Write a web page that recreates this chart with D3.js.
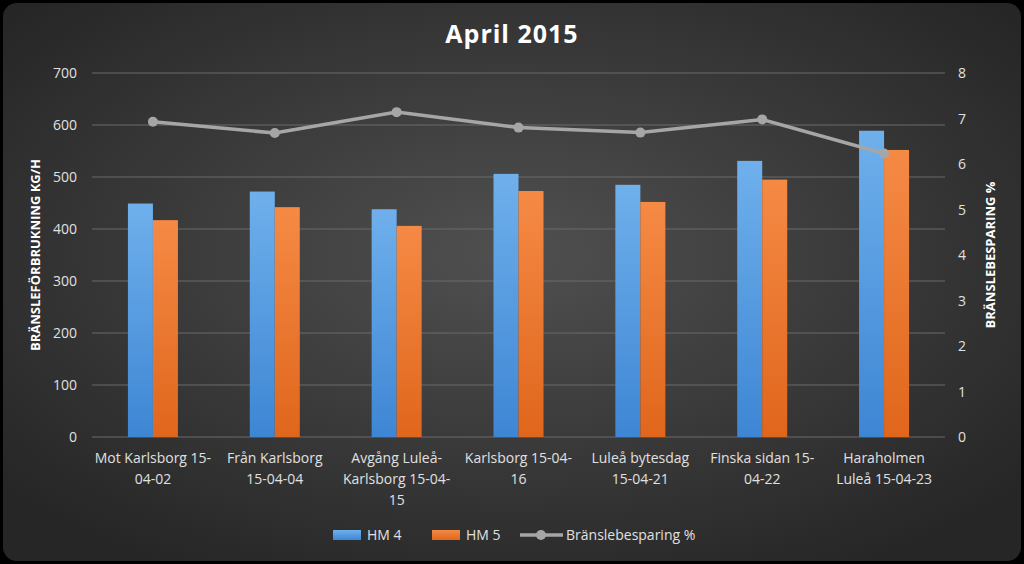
<!DOCTYPE html>
<html><head><meta charset="utf-8">
<script src="https://cdn.jsdelivr.net/npm/d3@7"></script>
<style>body{margin:0;background:#fff}svg{display:block;font-family:"Open Sans","Liberation Sans",Arial,sans-serif}</style>
</head><body><svg id="c" width="1024" height="564"></svg>
<script>
// category labels, split into lines as in the reference
const categories = [
  ["Mot Karlsborg 15-", "04-02"],
  ["Från Karlsborg", "15-04-04"],
  ["Avgång Luleå-", "Karlsborg 15-04-", "15"],
  ["Karlsborg 15-04-", "16"],
  ["Luleå bytesdag", "15-04-21"],
  ["Finska sidan 15-", "04-22"],
  ["Haraholmen", "Luleå 15-04-23"]
];
const hm4 = [449, 472, 438, 506, 485, 531, 589];
const hm5 = [417, 442, 406, 473, 452, 495, 552];
const savings = [6.93, 6.68, 7.14, 6.80, 6.69, 6.98, 6.23];
const leftTicks = [0, 100, 200, 300, 400, 500, 600, 700];
const rightTicks = [0, 1, 2, 3, 4, 5, 6, 7, 8];

const svg = d3.select('#c');
const defs = svg.append('defs');
const bg = defs.append('radialGradient').attr('id', 'bg').attr('cx', '50%').attr('cy', '45%').attr('r', '65%');
bg.append('stop').attr('offset', '0%').attr('stop-color', '#505050');
bg.append('stop').attr('offset', '100%').attr('stop-color', '#262626');
const g4 = defs.append('linearGradient').attr('id', 'g4').attr('x1', 0).attr('x2', 0).attr('y1', 0).attr('y2', 1);
g4.append('stop').attr('offset', '0%').attr('stop-color', '#6fb0ec');
g4.append('stop').attr('offset', '100%').attr('stop-color', '#3e86d4');
const g5 = defs.append('linearGradient').attr('id', 'g5').attr('x1', 0).attr('x2', 0).attr('y1', 0).attr('y2', 1);
g5.append('stop').attr('offset', '0%').attr('stop-color', '#f58a45');
g5.append('stop').attr('offset', '100%').attr('stop-color', '#e0661c');

svg.append('rect').attr('width', 1024).attr('height', 564).attr('fill', '#000');
svg.append('rect').attr('x', 3).attr('y', 3).attr('width', 1018).attr('height', 558).attr('rx', 14)
  .attr('fill', 'url(#bg)');

const x0 = 92, x1 = 945, yTop = 73, yBot = 437;
const x = d3.scaleBand().domain(d3.range(categories.length)).range([x0, x1]);
const yL = d3.scaleLinear().domain([0, 700]).range([yBot, yTop]);
const yR = d3.scaleLinear().domain([0, 8]).range([yBot, yTop]);
const bw = 25;

svg.append('text').attr('x', 512).attr('y', 43).attr('text-anchor', 'middle')
  .attr('fill', '#fff').attr('font-size', 25).attr('font-weight', 'bold').attr('letter-spacing', 1).text('April 2015');

// gridlines + left ticks
leftTicks.forEach(t => {
  svg.append('line').attr('x1', x0).attr('x2', x1).attr('y1', yL(t)).attr('y2', yL(t))
    .attr('stroke', '#6a6a6a').attr('stroke-width', 1);
  svg.append('text').attr('x', 77).attr('y', yL(t) + 5).attr('text-anchor', 'end')
    .attr('fill', '#e0e0e0').attr('font-size', 14).text(t);
});
rightTicks.forEach(t => {
  svg.append('text').attr('x', 958).attr('y', yR(t) + 5).attr('text-anchor', 'start')
    .attr('fill', '#e0e0e0').attr('font-size', 14).text(t);
});

svg.append('text').attr('transform', `translate(40,${(yTop + yBot) / 2}) rotate(-90)`)
  .attr('text-anchor', 'middle').attr('fill', '#fff').attr('font-size', 13).attr('font-weight', 'bold')
  .text('BRÄNSLEFÖRBRUKNING KG/H');
svg.append('text').attr('transform', `translate(995,${(yTop + yBot) / 2}) rotate(-90)`)
  .attr('text-anchor', 'middle').attr('fill', '#fff').attr('font-size', 13).attr('font-weight', 'bold')
  .text('BRÄNSLEBESPARING %');

// bars
categories.forEach((c, i) => {
  const cx = x(i) + x.bandwidth() / 2;
  svg.append('rect').attr('x', cx - bw).attr('y', yL(hm4[i])).attr('width', bw)
    .attr('height', yBot - yL(hm4[i])).attr('fill', 'url(#g4)');
  svg.append('rect').attr('x', cx).attr('y', yL(hm5[i])).attr('width', bw)
    .attr('height', yBot - yL(hm5[i])).attr('fill', 'url(#g5)');
  const t = svg.append('text').attr('text-anchor', 'middle').attr('fill', '#e0e0e0').attr('font-size', 14);
  c.forEach((line, k) => t.append('tspan').attr('x', cx).attr('y', 463 + k * 21).text(line));
});

// line series
const line = d3.line().x((d, i) => x(i) + x.bandwidth() / 2).y(d => yR(d));
svg.append('path').datum(savings).attr('d', line).attr('fill', 'none')
  .attr('stroke', '#a6a6a6').attr('stroke-width', 3.5);
svg.selectAll('circle.p').data(savings).enter().append('circle')
  .attr('cx', (d, i) => x(i) + x.bandwidth() / 2).attr('cy', d => yR(d)).attr('r', 5).attr('fill', '#a6a6a6');

// legend
const lg = svg.append('g').attr('font-size', 14).attr('fill', '#e0e0e0');
lg.append('rect').attr('x', 333).attr('y', 530).attr('width', 28).attr('height', 10).attr('fill', 'url(#g4)');
lg.append('text').attr('x', 367).attr('y', 540).attr('fill', '#e0e0e0').text('HM 4');
lg.append('rect').attr('x', 432).attr('y', 530).attr('width', 28).attr('height', 10).attr('fill', 'url(#g5)');
lg.append('text').attr('x', 466).attr('y', 540).attr('fill', '#e0e0e0').text('HM 5');
lg.append('line').attr('x1', 520).attr('x2', 563).attr('y1', 535).attr('y2', 535).attr('stroke', '#a6a6a6').attr('stroke-width', 3.5);
lg.append('circle').attr('cx', 541).attr('cy', 535).attr('r', 5).attr('fill', '#a6a6a6');
lg.append('text').attr('x', 566).attr('y', 540).attr('fill', '#e0e0e0').text('Bränslebesparing %');
</script></body></html>
